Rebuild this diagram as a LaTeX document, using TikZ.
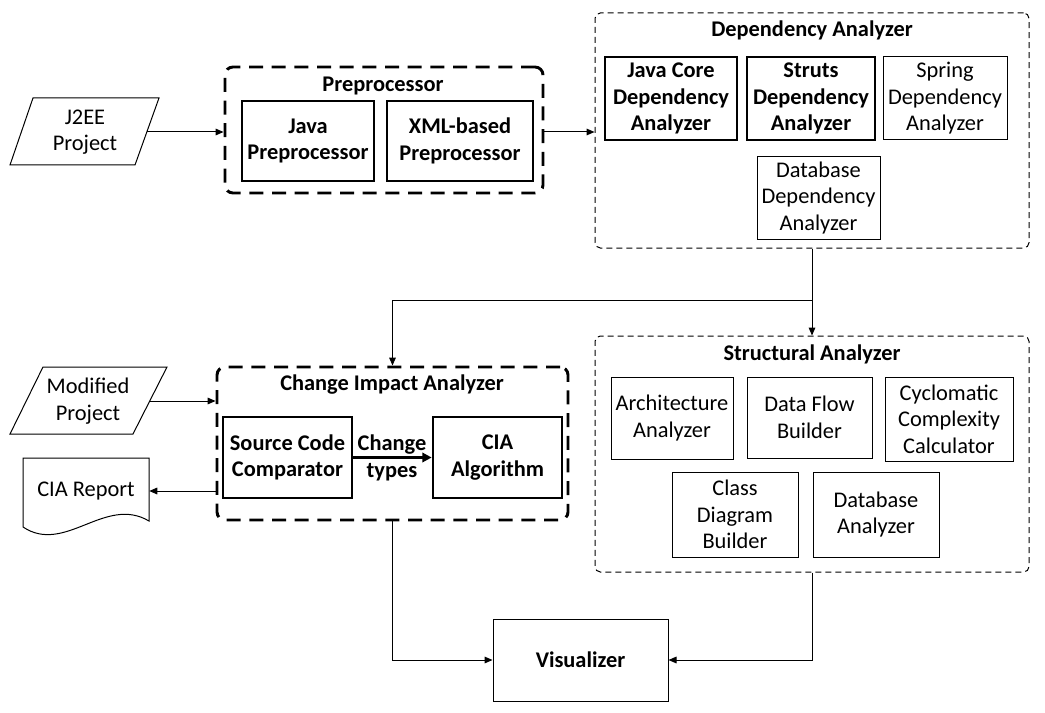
\documentclass[tikz,border=0pt]{standalone}
\usepackage{fontspec}
\setmainfont{Carlito}
\usetikzlibrary{arrows.meta}
\begin{document}
\begin{tikzpicture}[x=0.75pt,y=-0.75pt,
  every node/.style={font=\fontsize{16.8}{19.8}\selectfont, align=center, inner sep=0pt},
  thinbox/.style={draw, line width=0.75pt},
  boldbox/.style={draw, line width=2pt, font=\fontsize{16.8}{19.8}\selectfont\bfseries},
  grpthick/.style={draw, line width=2.2pt, dash pattern=on 10.5pt off 6.5pt, rounded corners=6pt},
  grpthin/.style={draw, line width=0.75pt, dash pattern=on 4.5pt off 3pt, rounded corners=4pt},
  grptitle/.style={font=\fontsize{16.8}{19.8}\selectfont\bfseries},
  arr/.style={line width=0.75pt, -{Triangle[length=6pt,width=5pt]}},
  bigarr/.style={line width=2pt, -{Triangle[length=7pt,width=7pt]}}]
\useasboundingbox (0,0) rectangle (1045,713);

% inputs / outputs
\draw[thinbox] (33,98) -- (159,98) -- (135,165) -- (10,165) -- cycle;
\node[minimum width=93pt] (j2ee) at (85,132) {J2EE\\Project};
\draw[thinbox] (43,367) -- (167,367) -- (133,434) -- (10,434) -- cycle;
\node[minimum width=93pt] (modified) at (88,401) {Modified\\Project};
\draw[thinbox] (23,458) -- (149,458) -- (149,521) .. controls (105,495) and (65,555) .. (23,527) -- cycle;
\node[minimum width=94.5pt] (report) at (86,491) {CIA Report};

% Preprocessor
\node[grpthick, minimum width=238.5pt, minimum height=94.5pt] (pre) at (384,130) {};
\node[grptitle] (pretitle) at (383,86) {Preprocessor};
\node[boldbox, minimum width=99pt, minimum height=60pt] (jpre) at (308,141) {Java\\Preprocessor};
\node[boldbox, minimum width=109.5pt, minimum height=60pt] (xpre) at (460,141) {XML-based\\Preprocessor};

% Dependency Analyzer
\node[grpthin, minimum width=325.5pt, minimum height=176.25pt] (dep) at (812,130.5) {};
\node[grptitle] (deptitle) at (812,30) {Dependency Analyzer};
\node[boldbox, minimum width=99pt, minimum height=62.25pt] (jcore) at (671,98.5) {Java Core\\Dependency\\Analyzer};
\node[boldbox, minimum width=96pt, minimum height=62.25pt] (struts) at (811,98.5) {Struts\\Dependency\\Analyzer};
\node[thinbox, minimum width=93pt, minimum height=62.25pt] (spring) at (945,98.5) {Spring\\Dependency\\Analyzer};
\node[thinbox, minimum width=92.25pt, minimum height=61.5pt] (dbdep) at (818.5,198) {Database\\Dependency\\Analyzer};

% Structural Analyzer
\node[grpthin, minimum width=325.5pt, minimum height=177pt] (struct) at (812,454) {};
\node[grptitle] (structtitle) at (812,354) {Structural Analyzer};
\node[thinbox, minimum width=91.5pt, minimum height=61.5pt] (arch) at (672,418) {Architecture\\Analyzer};
\node[thinbox, minimum width=93.75pt, minimum height=60.75pt] (dflow) at (809.5,417.5) {Data Flow\\Builder};
\node[thinbox, minimum width=96pt, minimum height=63pt] (cyclo) at (949,419) {Cyclomatic\\Complexity\\Calculator};
\node[thinbox, minimum width=94.5pt, minimum height=63.75pt] (classd) at (735,514.5) {Class\\Diagram\\Builder};
\node[thinbox, minimum width=94.5pt, minimum height=63.75pt] (dban) at (876,514.5) {Database\\Analyzer};

% Change Impact Analyzer
\node[grpthick, minimum width=263.25pt, minimum height=114.75pt] (cia) at (392.5,443.5) {};
\node[grptitle] (ciatitle) at (392,385) {Change Impact Analyzer};
\node[boldbox, minimum width=96.75pt, minimum height=60.75pt] (scc) at (287.5,457.5) {Source Code\\Comparator};
\node[boldbox, minimum width=96.75pt, minimum height=60.75pt] (ciaalg) at (497.5,457.5) {CIA\\Algorithm};
\node[grptitle] (ctypes) at (392,458) {Change\\types};

% Visualizer
\node[thinbox, minimum width=131.25pt, minimum height=61.5pt, font=\fontsize{16.8}{19.8}\selectfont\bfseries] (vis) at (580.5,660) {Visualizer};

% connectors
\coordinate (br) at (812,300);
\draw[arr] (j2ee.east) -- (j2ee.east -| pre.west);
\draw[arr] (pre.east |- j2ee.east) -- (dep.west |- j2ee.east);
\draw[arr] (dep.south) -- (struct.north);
\draw[arr] (br) -| (cia.north);
\draw[arr] (modified.east) -- (modified.east -| cia.west);
\draw[arr] (cia.west |- report.east) -- (report.east);
\draw[bigarr] (scc.east) -- (ciaalg.west);
\draw[arr] (cia.south) |- (vis.west);
\draw[arr] (struct.south) |- (vis.east);
\end{tikzpicture}
\end{document}
